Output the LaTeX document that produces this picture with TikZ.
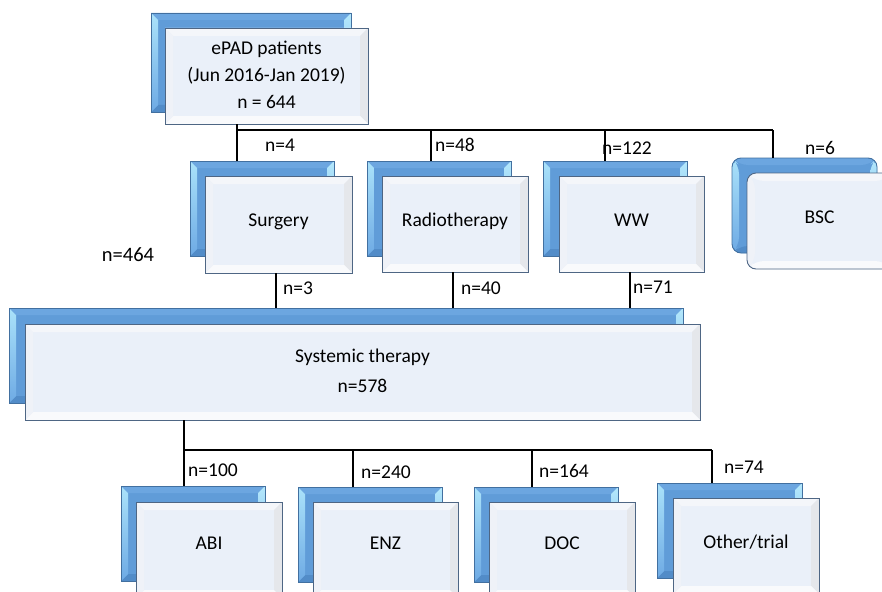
\documentclass[tikz,border=0pt]{standalone}
\usepackage{fontspec}
\setmainfont{Carlito}
\usetikzlibrary{calc}
\definecolor{bkface}{RGB}{96,156,216}
\definecolor{bkline}{RGB}{66,112,160}
\definecolor{frface}{RGB}{234,240,249}
\definecolor{frline}{RGB}{78,102,132}
\newcommand\mybevel[6]{%
  \path (path picture bounding box.north west) coordinate (bvA);
  \path (path picture bounding box.north east) coordinate (bvB);
  \path (path picture bounding box.south east) coordinate (bvC);
  \path (path picture bounding box.south west) coordinate (bvD);
  \path ([shift={(#6,-#6)}]bvA) coordinate (bva);
  \path ([shift={(-#6,-#6)}]bvB) coordinate (bvb);
  \path ([shift={(-#6,#6)}]bvC) coordinate (bvc);
  \path ([shift={(#6,#6)}]bvD) coordinate (bvd);
  \path[#5] (bva) rectangle (bvc);
  \path[#1] (bvA) -- (bvB) -- (bvb) -- (bva) -- cycle;
  \path[#3] (bvB) -- (bvC) -- (bvc) -- (bvb) -- cycle;
  \path[#4] (bvC) -- (bvD) -- (bvd) -- (bvc) -- cycle;
  \path[#2] (bvD) -- (bvA) -- (bva) -- (bvd) -- cycle;
}
\newcommand\up[1]{\raisebox{8pt}{#1}}
\newcommand\upb[1]{\raisebox{13pt}{#1}}
\tikzset{
  backbox/.style={draw=bkline, line width=0.9pt, fill=bkface, inner sep=0pt, outer sep=0pt,
    path picture={\mybevel{fill={rgb,255:red,108;green,166;blue,224}}
      {top color={rgb,255:red,170;green,226;blue,250}, bottom color={rgb,255:red,110;green,170;blue,228}}
      {top color={rgb,255:red,180;green,232;blue,252}, bottom color={rgb,255:red,110;green,170;blue,228}}
      {fill={rgb,255:red,82;green,140;blue,200}}
      {fill=bkface}{7pt}}},
  frontbox/.style={draw=frline, line width=0.9pt, fill=frface, inner sep=0pt, outer sep=0pt,
    path picture={\mybevel{fill={rgb,255:red,244;green,246;blue,250}}
      {fill={rgb,255:red,239;green,242;blue,248}}
      {fill={rgb,255:red,229;green,231;blue,235}}
      {fill={rgb,255:red,249;green,250;blue,252}}
      {fill=frface}{8pt}},
    font=\fontsize{19.5}{27}\selectfont, align=center},
  conn/.style={line width=1.6pt, black},
  lab/.style={font=\fontsize{19.5}{24}\selectfont, inner sep=0pt}
}
\begin{document}
\begin{tikzpicture}[x=1pt,y=-1pt]
\useasboundingbox (0,0) rectangle (882,591);
\clip (0,0) rectangle (882,591);
% top
\node[backbox, minimum width=200pt, minimum height=99pt] (topb) at (251,62.5) {};
\node[frontbox, minimum width=203pt, minimum height=96pt] (top) at (266.5,76)
  {\raisebox{3pt}{\begin{tabular}{@{}c@{}}ePAD patients\\(Jun 2016-Jan 2019)\\n = 644\end{tabular}}};
% row 2
\node[backbox, minimum width=144pt, minimum height=95pt] (surgb) at (262,208.5) {};
\node[frontbox, minimum width=147pt, minimum height=97pt] (surg) at (278.5,224.5) {\up{Surgery}};
\node[backbox, minimum width=144pt, minimum height=95pt] (radb) at (439,208.5) {};
\node[frontbox, minimum width=146pt, minimum height=96pt] (rad) at (455,224) {\up{Radiotherapy}};
\node[backbox, minimum width=144pt, minimum height=95pt] (wwb) at (615,208.5) {};
\node[frontbox, minimum width=145pt, minimum height=96pt] (ww) at (631.5,224) {\up{WW}};
\node[backbox, rounded corners=9pt, minimum width=145pt, minimum height=95pt] (bscb) at (804.5,205.5) {};
\node[frontbox, rounded corners=9pt, minimum width=145pt, minimum height=96pt] (bsc) at (819.5,221) {\up{BSC}};
% systemic
\node[backbox, minimum width=674pt, minimum height=95pt] (sysb) at (346,355.5) {};
\node[frontbox, minimum width=675pt, minimum height=96pt] (sys) at (362.5,372)
  {\raisebox{8pt}{\begin{tabular}{@{}c@{}}Systemic therapy\\[3pt]n=578\end{tabular}}};
% bottom row
\node[backbox, minimum width=144pt, minimum height=95pt] (abib) at (193,533.5) {};
\node[frontbox, minimum width=146pt, minimum height=96pt] (abi) at (209,550) {\upb{ABI}};
\node[backbox, minimum width=144pt, minimum height=95pt] (enzb) at (370,534.5) {};
\node[frontbox, minimum width=145pt, minimum height=96pt] (enz) at (385.5,550) {\upb{ENZ}};
\node[backbox, minimum width=144pt, minimum height=95pt] (docb) at (546,534.5) {};
\node[frontbox, minimum width=146pt, minimum height=96pt] (doc) at (562,550) {\upb{DOC}};
\node[backbox, minimum width=145pt, minimum height=95pt] (othb) at (729.5,530.5) {};
\node[frontbox, minimum width=146pt, minimum height=96pt] (oth) at (746,546) {\up{Other/trial}};
% connectors top
\coordinate (j1) at (237,130);
\coordinate (j2) at (431,130);
\coordinate (j3) at (605,130);
\coordinate (j4) at (773,130);
\draw[conn] (top.south -| j1) -- (j1) -- (j4);
\draw[conn] (j1) -- (surgb.north -| j1);
\draw[conn] (j2) -- (radb.north -| j2);
\draw[conn] (j3) -- (wwb.north -| j3);
\draw[conn] (j4) -- (bscb.north -| j4);
% row 2 to systemic
\coordinate (k1) at (276,290);
\coordinate (k2) at (453,290);
\coordinate (k3) at (630,290);
\draw[conn] (surg.south -| k1) -- (sysb.north -| k1);
\draw[conn] (rad.south -| k2) -- (sysb.north -| k2);
\draw[conn] (ww.south -| k3) -- (sysb.north -| k3);
% systemic to bottom
\coordinate (m1) at (184,450);
\coordinate (m2) at (353,450);
\coordinate (m3) at (532,450);
\coordinate (m4) at (712,450);
\draw[conn] (sys.south -| m1) -- (m1) -- (m4);
\draw[conn] (m1) -- (abib.north -| m1);
\draw[conn] (m2) -- (enzb.north -| m2);
\draw[conn] (m3) -- (docb.north -| m3);
\draw[conn] (m4) -- (othb.north -| m4);
% labels
\node[lab] (l1) at (280,145) {n=4};
\node[lab] (l2) at (455,145) {n=48};
\node[lab] (l3) at (627,148) {n=122};
\node[lab] (l4) at (820,148) {n=6};
\node[lab, font=\fontsize{20.5}{24}\selectfont] (l5) at (128,255) {n=464};
\node[lab] (l6) at (298,288) {n=3};
\node[lab] (l7) at (481,288) {n=40};
\node[lab] (l8) at (653,287) {n=71};
\node[lab] (l9) at (213,470) {n=100};
\node[lab] (l10) at (386,472) {n=240};
\node[lab] (l11) at (564,471) {n=164};
\node[lab] (l12) at (744,467) {n=74};
\end{tikzpicture}
\end{document}
